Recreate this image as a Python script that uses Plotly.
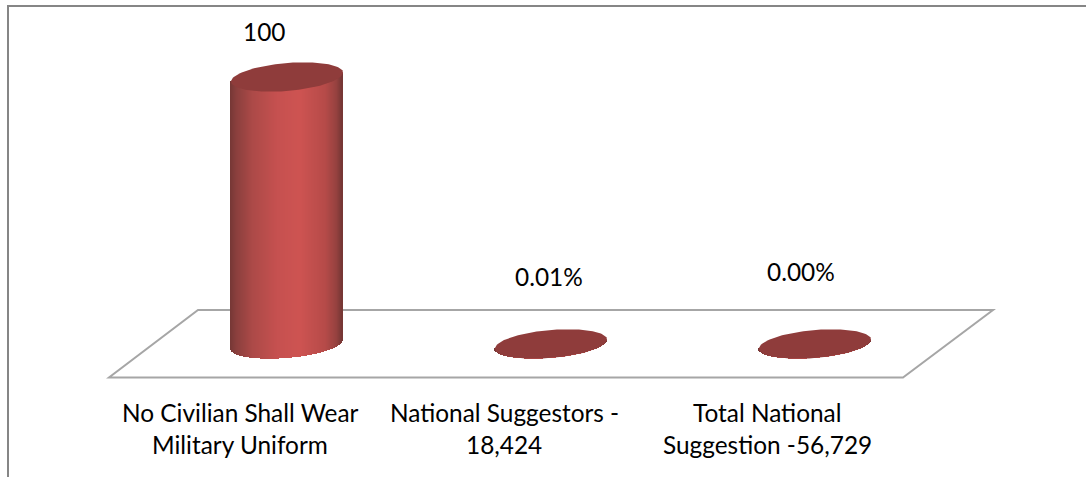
import numpy as np
import plotly.graph_objects as go

W, H = 1086, 477
categories = ["No Civilian Shall Wear\nMilitary Uniform", "National Suggestors -\n18,424", "Total National\nSuggestion -56,729"]
values = [100, 0.01, 0.0]
value_labels = ["100", "0.01%", "0.00%"]

# scale of the hidden axes
PX_PER_CAT = 264.0
PX_PER_VAL = 2.67
X0_PX, Y0_PX = 287.0, 344.0
x_range = [-X0_PX / PX_PER_CAT, (W - X0_PX) / PX_PER_CAT]
y_range = [(Y0_PX - H) / PX_PER_VAL, Y0_PX / PX_PER_VAL]

# cylinder geometry (in px, converted to axis units)
A, B, K = 56.0, 14.0, 4.5
stops_t = [0.0, 0.06, 0.2, 0.42, 0.62, 0.85, 0.95, 1.0]
stops_c = [(118, 56, 54), (140, 64, 62), (172, 74, 72), (198, 81, 80), (206, 84, 82), (182, 75, 73), (150, 66, 64), (116, 55, 53)]
TOP_COLOR = "#8f3c3b"


def grad(t):
    return "rgb(%d,%d,%d)" % tuple(np.interp(t, stops_t, [c[i] for c in stops_c]) for i in range(3))


def lower_arc(dx):
    s = np.clip(dx / A, -1, 1)
    # px above the centre line for the lower half of the tilted ellipse
    return (K * s - B * np.sqrt(1 - s * s))


strip_x, strip_base, strip_h, strip_c = [], [], [], []
offsets = np.arange(-A + 0.5, A, 1.0)
for i, v in enumerate(values):
    for dx in offsets:
        low = lower_arc(dx) / PX_PER_VAL
        strip_x.append(i + dx / PX_PER_CAT)
        strip_base.append(low)
        strip_h.append(v + K * dx / A / PX_PER_VAL - low)
        strip_c.append(grad((dx + A) / (2 * A)))

fig = go.Figure()
fig.add_trace(go.Bar(x=strip_x, y=strip_h, base=strip_base, width=1.3 / PX_PER_CAT,
                     marker=dict(color=strip_c, line=dict(width=0)), hoverinfo="skip", showlegend=False))

t = np.linspace(0, 2 * np.pi, 121)
for i, v in enumerate(values):
    fig.add_trace(go.Scatter(
        x=i + A * np.cos(t) / PX_PER_CAT,
        y=v + (B * np.sin(t) + K * np.cos(t)) / PX_PER_VAL,
        mode="lines", fill="toself", fillcolor=TOP_COLOR, line=dict(width=0, color=TOP_COLOR),
        hoverinfo="skip", showlegend=False))


def px(x):
    return x / W


def py(y):
    return 1 - y / H


font = dict(family="Lato, Carlito, Calibri, sans-serif", size=24.4, color="#000000")
annotations = []
label_dx = [-23, -2, -14]
label_dy = [46, 67, 73]
for i, (v, s) in enumerate(zip(values, value_labels)):
    annotations.append(dict(x=i + label_dx[i] / PX_PER_CAT, y=v + label_dy[i] / PX_PER_VAL, text=s, showarrow=False,
                            xref="x", yref="y", xanchor="center", yanchor="middle", font=font))
label_centres = [-47, -47, -48]
for i, c in enumerate(categories):
    for j, line in enumerate(c.split("\n")):
        annotations.append(dict(x=i + label_centres[i] / PX_PER_CAT, y=py(412 + 32 * j), text=line, showarrow=False,
                                xref="x", yref="paper", xanchor="center", yanchor="middle", font=font))

floor = [(109, 377.5), (903, 377.5), (993, 310), (198, 310)]
path = "M " + " L ".join(f"{px(a):.5f},{py(b):.5f}" for a, b in floor) + " Z"
shapes = [
    dict(type="path", path=path, xref="paper", yref="paper", line=dict(color="#a6a6a6", width=2), fillcolor="#ffffff", layer="below"),
    dict(type="line", xref="paper", yref="paper", x0=px(8), x1=1, y0=py(6), y1=py(6), line=dict(color="#868686", width=2), layer="below"),
    dict(type="line", xref="paper", yref="paper", x0=px(8), x1=px(8), y0=py(5), y1=0, line=dict(color="#868686", width=2), layer="below"),
]

fig.update_layout(
    width=W, height=H, margin=dict(l=0, r=0, t=0, b=0),
    paper_bgcolor="#ffffff", plot_bgcolor="rgba(0,0,0,0)", barmode="overlay", bargap=0,
    xaxis=dict(range=x_range, visible=False, fixedrange=True),
    yaxis=dict(range=y_range, visible=False, fixedrange=True),
    shapes=shapes, annotations=annotations, showlegend=False,
)
fig.write_html("out.html", config=dict(displayModeBar=False),
               post_script="document.body.style.margin='0';document.body.style.overflow='hidden';")
